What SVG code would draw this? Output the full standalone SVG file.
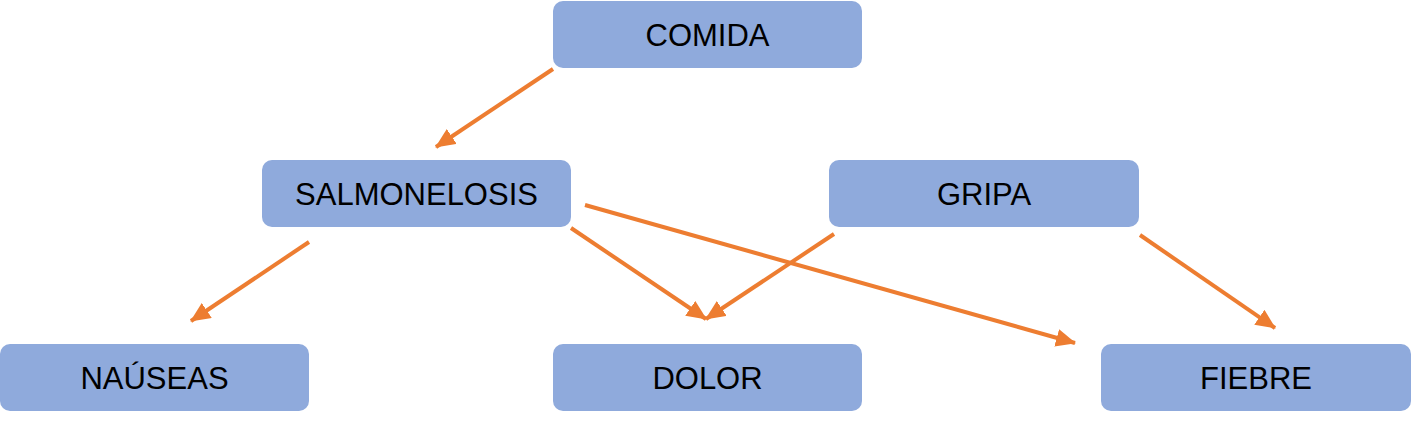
<svg xmlns="http://www.w3.org/2000/svg" width="1411" height="423" viewBox="0 0 1411 423">
<style>
.box{fill:#8FAADC;}
.lbl{font-family:"Liberation Sans",Arial,sans-serif;font-size:31px;fill:#000;text-anchor:middle;}
.conn{stroke:#ED7D31;stroke-width:4;fill:none;marker-end:url(#ah);}
</style>
<defs>
<marker id="ah" markerUnits="userSpaceOnUse" markerWidth="20" markerHeight="18" refX="19" refY="9" orient="auto">
<path d="M0,0 L20,9 L0,18 Z" fill="#ED7D31"/>
</marker>
</defs>
<rect width="1411" height="423" fill="#fff"/>
<g id="connectors">
<line class="conn" x1="553" y1="69" x2="436" y2="147"/>
<line class="conn" x1="309" y1="242" x2="191" y2="321"/>
<line class="conn" x1="571" y1="228" x2="706" y2="319"/>
<line class="conn" x1="585" y1="205" x2="1075" y2="343"/>
<line class="conn" x1="834" y1="234" x2="706" y2="319"/>
<line class="conn" x1="1140" y1="235" x2="1275" y2="328"/>
</g>
<g id="comida"><rect class="box" x="553" y="1" width="309" height="67" rx="10"/><text class="lbl" x="707.5" y="46">COMIDA</text></g>
<g id="salmonelosis"><rect class="box" x="262" y="160" width="309" height="67" rx="10"/><text class="lbl" x="416.5" y="205">SALMONELOSIS</text></g>
<g id="gripa"><rect class="box" x="829" y="160" width="310" height="67" rx="10"/><text class="lbl" x="984" y="205">GRIPA</text></g>
<g id="nauseas"><rect class="box" x="0" y="344" width="309" height="67" rx="10"/><text class="lbl" x="154.5" y="389">NAÚSEAS</text></g>
<g id="dolor"><rect class="box" x="553" y="344" width="309" height="67" rx="10"/><text class="lbl" x="707.5" y="389">DOLOR</text></g>
<g id="fiebre"><rect class="box" x="1101" y="344" width="310" height="67" rx="10"/><text class="lbl" x="1256" y="389">FIEBRE</text></g>
</svg>
